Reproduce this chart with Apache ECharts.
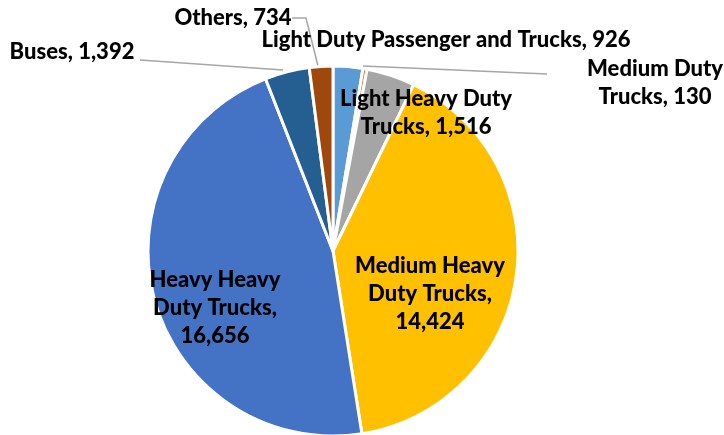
<!DOCTYPE html>
<html>
<head>
<meta charset="utf-8">
<script src="https://cdn.jsdelivr.net/npm/echarts@6/dist/echarts.min.js"></script>
<style>
html,body{margin:0;padding:0;background:#fff;}
#main{width:724px;height:435px;}
</style>
</head>
<body>
<div id="main"></div>
<script>
// 数据
var categories = ['Light Duty Passenger and Trucks', 'Medium Duty Trucks', 'Light Heavy Duty Trucks',
	'Medium Heavy Duty Trucks', 'Heavy Heavy Duty Trucks', 'Buses', 'Others'];
var values = [926, 130, 1516, 14424, 16656, 1392, 734];
var colors = ['#5B9BD5', '#ED7D31', '#A5A5A5', '#FFC000', '#4472C4', '#255E91', '#9E480E'];
// 标签换行
var labelNames = ['Light Duty Passenger and Trucks', 'Medium Duty\nTrucks', 'Light Heavy Duty\nTrucks',
	'Medium Heavy\nDuty Trucks,', 'Heavy Heavy\nDuty Trucks,', 'Buses', 'Others'];

// 标签位置
var labelPos = [[446, 40], [655, 83], [426, 113], [430, 294], [215, 308], [72, 52], [233, 18]];
var linePts = [
	null,
	[[547, 74], [363, 66]],
	null, null, null,
	[[140, 60], [283, 70]],
	[[292, 18], [306, 18], [318, 66]]
];

function fmt(n) {
	return n.toString().replace(/\B(?=(\d{3})+(?!\d))/g, ',');
}

var myChart = echarts.init(document.getElementById('main'));
var option = {
	animation: false,
	series: [{
		type: 'pie',
		center: [333, 251],
		radius: 185,
		startAngle: 90,
		clockwise: true,
		itemStyle: {
			borderColor: '#fff',
			borderWidth: 3
		},
		label: {
			show: true,
			position: 'outside',
			overflow: 'none',
			fontFamily: 'Lato',
			fontWeight: 900,
			fontSize: 22,
			lineHeight: 28,
			color: '#000',
			align: 'center',
			formatter: function (p) {
				var name = labelNames[p.dataIndex];
				var sep = name.charAt(name.length - 1) === ',' ? '\n' : ', ';
				return name + sep + fmt(p.value);
			}
		},
		labelLine: {
			show: true,
			lineStyle: { color: '#A6A6A6', width: 1.5 }
		},
		labelLayout: function (params) {
			var i = params.dataIndex;
			var res = {
				x: labelPos[i][0],
				y: labelPos[i][1],
				align: 'center',
				verticalAlign: 'middle',
				hideOverlap: false,
				moveOverlap: false
			};
			if (linePts[i]) {
				res.labelLinePoints = linePts[i];
			}
			return res;
		},
		data: categories.map(function (c, i) {
			return {
				name: c,
				value: values[i],
				itemStyle: { color: colors[i] },
				labelLine: { show: !!linePts[i] }
			};
		})
	}]
};
myChart.setOption(option);
</script>
</body>
</html>
